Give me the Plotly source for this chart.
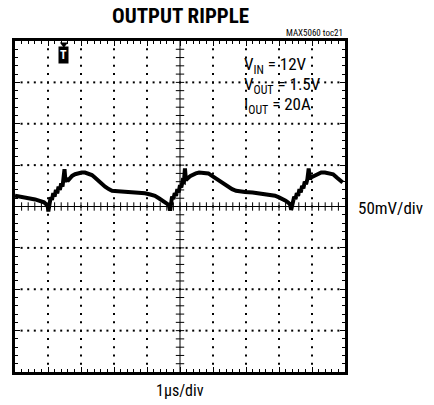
import numpy as np
import plotly.graph_objects as go

# waveform: time (us), ripple (mV)
t_us = [0.00, 0.30, 0.61, 0.88, 0.95, 0.99, 1.01, 1.04, 1.08, 1.12, 1.16, 1.20, 1.24, 1.28, 1.32, 1.36, 1.40,
        1.44, 1.47, 1.50, 1.53, 1.57, 1.62, 1.68, 1.73, 1.82, 1.91, 2.02, 2.12, 2.22, 2.33, 2.42,
        2.52, 2.62, 2.73, 2.84, 2.94, 3.12, 3.30, 3.48, 3.70, 3.94, 4.10, 4.24, 4.36, 4.48, 4.58,
        4.66, 4.70, 4.73, 4.76, 4.80, 4.84, 4.88, 4.92, 4.96, 5.00, 5.04, 5.08, 5.12, 5.15, 5.18,
        5.21, 5.26, 5.32, 5.40, 5.48, 5.58, 5.67, 5.76, 5.86, 5.97, 6.08, 6.21, 6.33, 6.45, 6.58,
        6.70, 6.84, 6.97, 7.20, 7.42, 7.65, 7.88, 8.00, 8.12, 8.20, 8.27, 8.33, 8.37, 8.39, 8.42,
        8.46, 8.50, 8.54, 8.58, 8.62, 8.66, 8.70, 8.74, 8.78, 8.82, 8.86, 8.90, 8.94, 8.97, 9.02,
        9.08, 9.18, 9.28, 9.39, 9.50, 9.64, 9.75, 9.85, 9.93, 10.00]
ripple_mv = [13, 11, 8.5, 5, 3, 1, -6, 4, 11, 8, 16, 12, 20, 16, 24, 20, 28,
             24, 31, 45, 30, 33, 32, 36, 37, 39, 40, 41, 41, 40, 38,
             35, 31, 28, 24, 21, 19, 18.5, 18, 17.5, 17, 16, 14.5, 13, 10, 7,
             4, 2, -5, 5, 12, 9, 16, 13, 21, 17, 26, 23, 31, 30, 46,
             32, 34, 35, 37, 39, 40, 41, 41, 41, 40, 37, 34, 31, 27, 24,
             21, 19, 18, 17.5, 17, 16, 14.5, 13, 11, 9, 7, 5, 3, -4, 1,
             5, 12, 9, 16, 13, 21, 17, 25, 22, 30, 27, 33, 46, 33, 35,
             36, 37, 39, 41, 41, 40, 39, 35, 32, 29]

x_range = [0, 10]
y_range = [-200, 200]
x_div = 1.0
y_div = 50.0

fig = go.Figure()

# dotted graticule
gx, gy = [], []
for xv in np.arange(1, 10, 1.0):
    if abs(xv - 5) < 1e-9:
        continue
    for yv in np.arange(-190, 200, 10.0):
        gx.append(xv); gy.append(yv)
for yv in np.arange(-150, 200, 50.0):
    if abs(yv) < 1e-9:
        continue
    for xv in np.arange(0.2, 10, 0.2):
        gx.append(xv); gy.append(yv)
fig.add_trace(go.Scatter(x=gx, y=gy, mode="markers",
                         marker=dict(symbol="square", size=2, color="black", line=dict(width=0)),
                         hoverinfo="skip", showlegend=False))

# centre axes
fig.add_shape(type="line", x0=0, x1=10, y0=0, y1=0, line=dict(color="black", width=1))
fig.add_shape(type="line", x0=5, x1=5, y0=-200, y1=200, line=dict(color="black", width=1))
cx = list(np.arange(0.2, 10, 0.2))
fig.add_trace(go.Scatter(x=cx, y=[0] * len(cx), mode="markers",
                         marker=dict(symbol="line-ns", size=6, color="black", line=dict(width=1, color="black")),
                         hoverinfo="skip", showlegend=False))
cy = list(np.arange(-190, 200, 10.0))
fig.add_trace(go.Scatter(x=[5] * len(cy), y=cy, mode="markers",
                         marker=dict(symbol="line-ew", size=6, color="black", line=dict(width=1, color="black")),
                         hoverinfo="skip", showlegend=False))

# waveform
fig.add_trace(go.Scatter(x=t_us, y=ripple_mv, mode="lines",
                         line=dict(color="black", width=4), showlegend=False))

font_n = "Roboto Condensed, Arial Narrow, Liberation Sans Narrow, sans-serif"

axis_common = dict(showgrid=False, zeroline=False, showticklabels=False,
                   showline=True, linecolor="black", linewidth=3, mirror="allticks",
                   ticks="inside", ticklen=5, tickcolor="black", tickwidth=1)
fig.update_xaxes(range=x_range, dtick=x_div, tick0=0,
                 minor=dict(ticks="inside", ticklen=3, dtick=0.2, tickcolor="black", tickwidth=1),
                 **axis_common)
fig.update_yaxes(range=y_range, dtick=y_div, tick0=0,
                 minor=dict(ticks="inside", ticklen=3, dtick=10, tickcolor="black", tickwidth=1),
                 **axis_common)

ann = []
ann.append(dict(text="<b>OUTPUT RIPPLE</b>", xref="paper", yref="paper", x=0.5, y=1.0,
                yshift=25, showarrow=False, xanchor="center", yanchor="middle",
                font=dict(family=font_n, size=21, color="black")))
ann.append(dict(text="MAX5060 toc21", xref="paper", yref="paper", x=1.0, y=1.0,
                yshift=8, showarrow=False, xanchor="right", yanchor="middle",
                font=dict(family=font_n, size=9, color="black")))
for txt, yv in [("V<sub>IN</sub> = 12V", 170), ("V<sub>OUT</sub> = 1.5V", 146), ("I<sub>OUT</sub> = 20A", 122)]:
    ann.append(dict(text=txt, xref="x", yref="y", x=6.88, y=yv, showarrow=False,
                    xanchor="left", yanchor="middle", align="left",
                    font=dict(family=font_n, size=17, color="black")))
ann.append(dict(text="50mV/div", xref="paper", yref="y", x=1.0, xshift=11, y=-2,
                showarrow=False, xanchor="left", yanchor="middle",
                font=dict(family=font_n, size=17, color="black")))
ann.append(dict(text="1µs/div", xref="paper", yref="paper", x=0.5, y=0, yshift=-18,
                showarrow=False, xanchor="center", yanchor="middle",
                font=dict(family=font_n, size=16, color="black")))
ann.append(dict(text="<b>T</b>", xref="x", yref="y", x=1.48, y=183, showarrow=False,
                xanchor="center", yanchor="middle", bgcolor="black", borderpad=1,
                font=dict(family=font_n, size=12, color="white")))
fig.update_layout(annotations=ann)
fig.add_trace(go.Scatter(x=[1.48], y=[196], mode="markers",
                         marker=dict(symbol="triangle-down", size=7, color="black"),
                         hoverinfo="skip", showlegend=False))

fig.update_layout(width=434, height=405, margin=dict(l=15, r=89, t=41, b=33),
                  paper_bgcolor="white", plot_bgcolor="white")
fig.write_html("out.html", config={"displayModeBar": False},
               post_script="document.body.style.margin='0';document.body.style.padding='0';")
